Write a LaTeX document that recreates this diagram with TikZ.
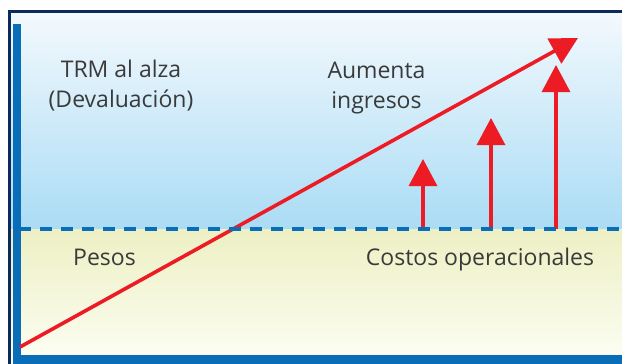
\documentclass[tikz,border=0pt]{standalone}
\usepackage{fontspec}
\setmainfont{Open Sans}
\usetikzlibrary{arrows.meta}
\definecolor{rojo}{HTML}{ED1C24}
\definecolor{azul}{HTML}{0A6DB8}
\definecolor{marino}{HTML}{0B2A5E}
\definecolor{texto}{HTML}{3A3A3A}
\definecolor{cieloA}{HTML}{F3F9FD}
\definecolor{cieloB}{HTML}{AADCF5}
\definecolor{arenaA}{HTML}{EDF0C3}
\definecolor{arenaB}{HTML}{FBFDF1}
\begin{document}
\begin{tikzpicture}[x=1pt,y=-1pt,
  flecha/.style={rojo,line width=3.2pt,-{Triangle[length=27pt,width=28pt]}},
  txt/.style={text=texto,font=\fontsize{23}{30}\selectfont,align=center,inner sep=0pt}]
\useasboundingbox (0,0) rectangle (622,364);
\fill[white] (0,0) rectangle (622,364);
% fondo: cielo arriba, arena abajo
\shade[top color=cieloA,bottom color=cieloB] (11,13) rectangle (622,229);
\shade[top color=arenaA,bottom color=arenaB] (11,229) rectangle (622,355);
% marco
\fill[marino] (8,10) rectangle (622,13);
\fill[marino] (8,10) rectangle (11,364);
\fill[azul] (13,24) rectangle (21,364);
\fill[azul] (13,355) rectangle (622,364);
% textos
\node[txt] (trm) at (121,86) {TRM al alza\\(Devaluación)};
\node[txt] (aum) at (376.5,88) {Aumenta\\ingresos};
\node[txt,anchor=base] (pes) at (104.5,265) {Pesos};
\node[txt,anchor=base] (cos) at (480,265) {Costos operacionales};
% flechas
\coordinate (o) at (20,347);
\coordinate (p) at (578,38);
\foreach \x/\y [count=\i] in {423/159,491/118,556/65}{
  \coordinate (b\i) at (\x,229);
  \coordinate (t\i) at (\x,\y);
  \draw[flecha] (b\i) -- (t\i);}
\draw[flecha,line width=3.6pt] (o) -- (p);
% linea divisoria
\coordinate (l) at (19,229);
\coordinate (r) at (622,229);
\draw[azul,line width=4pt,dash pattern=on 12pt off 9pt] (l) -- (r);
\end{tikzpicture}
\end{document}
